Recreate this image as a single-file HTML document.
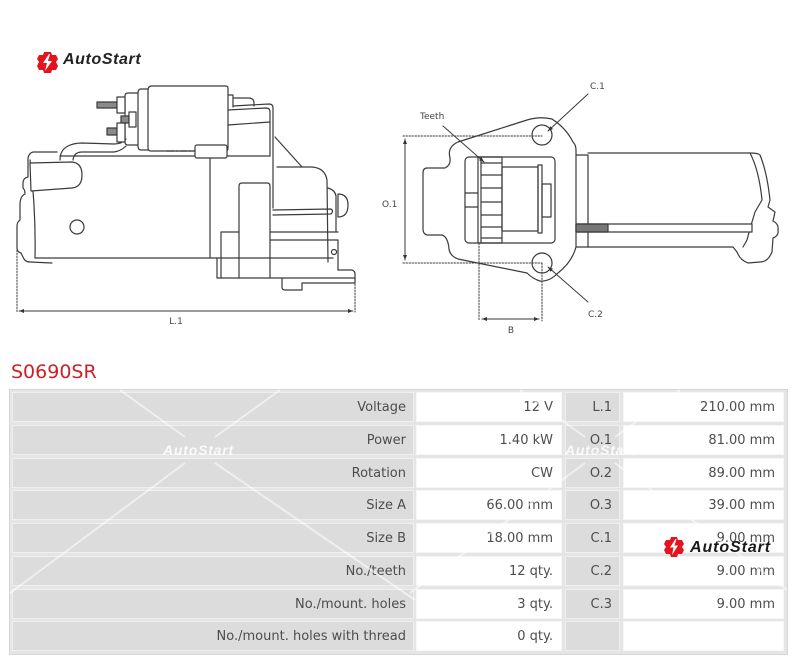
<!DOCTYPE html>
<html><head><meta charset="utf-8">
<style>
html,body{margin:0;padding:0;background:#fff;}
body{width:800px;height:660px;position:relative;overflow:hidden;font-family:"DejaVu Sans","Liberation Sans",sans-serif;}
.logo{position:absolute;left:63px;top:51px;font-family:"Liberation Sans",sans-serif;font-style:italic;font-weight:bold;font-size:16px;letter-spacing:0.6px;color:#222;}
.title{position:absolute;left:11px;top:360px;font-size:19px;color:#cc1f28;line-height:24px;}
.tbl{position:absolute;left:9px;top:389px;width:777px;height:264px;background:#e5e5e5;border:1px solid #d6d6d6;}
.c{position:absolute;height:30px;line-height:30px;font-size:13px;color:#4d4d4d;text-align:right;box-sizing:border-box;padding-right:7px;white-space:nowrap;}
.g{background:#dcdcdc;border:1px solid #efefef;}
.w{background:#fff;border:1px solid #f6f6f6;padding-right:8px;}
.c1{left:12px;width:402px}
.c2{left:416px;width:146px}
.c3{left:565px;width:55px}
.c4{left:623px;width:161px}
</style></head>
<body>

<svg width="800" height="345" style="position:absolute;left:0;top:0" viewBox="0 0 800 345">
<defs>
<marker id="ah" viewBox="0 0 10 10" refX="10" refY="5" markerWidth="5" markerHeight="5" orient="auto-start-reverse"><path d="M0,1 L10,5 L0,9 z" fill="#333"/></marker>
</defs>
<g transform="translate(37,52)">
<path d="M7 0 L14 0 L15 3 L19 3 L21 7 L19 10 L21 14 L19 18 L15 18 L14 21 L7 21 L6 18 L2 18 L0 14 L2 10 L0 7 L2 3 L6 3 Z" fill="#e3141d"/>
<path d="M12 2 L6 11 L10 11 L8 19 L15 9 L11 9 L13 2 Z" fill="#fff"/>
</g>

<g fill="none" stroke="#3a3a3a" stroke-width="1.2" stroke-linejoin="round" stroke-linecap="round">
<path d="M60 156 L270 156"/>
<path d="M35 258 L333 258"/>
<path d="M57 152 L33 152 Q29 153 28 158 L28 177 Q23 178 23 183 L23 188 Q25 190 25 194 Q20 196 20 205 L20 220 Q17 222 17 226 L17 248 Q17 252 21 253 L24 259 Q26 262 30 262 L52 263"/>
<path d="M30 160 Q36 210 35 258"/>
<path d="M30 163 L72 162 Q82 163 82 175 Q82 187 72 188 L31 191 Z" fill="#fff"/>
<path d="M60 160 Q60 150 68 146 Q74 143 82 143 L114 144 Q122 144 126 139"/>
<path d="M73 160 Q74 152 82 152 L114 152 Q121 151 126 146"/>
<circle cx="77" cy="227" r="7"/>
<path d="M152 86 L226 86 Q228 86 228 89 L228 148 Q228 151 226 151 L151 151 Q148 151 148 148 L148 90 Q148 86 152 86Z" fill="#fff"/>
<path d="M148 89 L141 89 Q138 89 138 93 L138 146 Q138 150 141 150 L148 150"/>
<path d="M138 93 L128 93 Q125 93 125 96 L125 142 Q125 145 128 145 L138 145"/>
<rect x="97" y="102" width="20" height="6" fill="#8a8a8a"/>
<rect x="117" y="97" width="8" height="16" fill="#fff"/>
<rect x="121" y="116" width="8" height="7" fill="#8a8a8a"/>
<rect x="129" y="112" width="7" height="15" fill="#fff"/>
<rect x="107" y="128" width="10" height="7" fill="#8a8a8a"/>
<rect x="117" y="123" width="8" height="19" fill="#fff"/>
<path d="M228 95 L233 95 L233 107"/>
<path d="M233 98 L250 98 Q254 99 254 103 L254 106"/>
<path d="M233 106 L269 104 Q273 104 273 108 L273 208"/>
<path d="M228 110 L266 108 Q270 108 270 112 L270 156"/>
<path d="M228 125 L270 122"/>
<path d="M167 151 L195 151" stroke-dasharray="7 2 2 2"/>
<rect x="195" y="145" width="32" height="13" rx="2" fill="#fff"/>
<path d="M210 158 L210 258"/>
<path d="M275 137 L302 167"/>
<path d="M277 167 L312 167 Q325 168 327 180 L328 262"/>
<path d="M328 188 Q335 190 336 196 L336 232"/>
<path d="M338 194 Q348 194 348 205 Q348 217 338 217 Z" fill="#fff"/>
<path d="M273 210 L331 209 Q334 211 331 214 L273 215"/>
<path d="M270 232 L338 232"/>
<path d="M270 240 L338 240 L338 270"/>
<circle cx="334" cy="252" r="2.5"/>
<path d="M239 278 L239 186 Q239 183 242 183 L267 183 Q270 183 270 186 L270 278"/>
<path d="M221 278 L221 232 L239 232"/>
<path d="M217 258 L217 278 L355 278"/>
<path d="M338 270 L352 270 Q355 271 355 274 L355 283 L302 283 L302 290 L285 290 Q282 290 282 287 L282 278"/>
<path d="M17 250 L17 312 M355 284 L355 312" stroke-dasharray="1.5 1.5" stroke-width="1"/>
<path d="M19 311 L353 311" stroke-width="1" marker-start="url(#ah)" marker-end="url(#ah)"/>

<path d="M427 168 L445 168 Q451 165 450 158 Q447 147 458 142 L527 120 Q540 116 552 119 Q566 128 573 142 Q576 145 576 150 L576 247 Q572 262 558 273 Q549 282 540 281 Q533 279 527 273 L458 259 Q450 256 449 249 Q448 237 442 235 L427 235 Q423 234 423 229 L423 173 Q423 168 427 168 Z" fill="#fff"/>
<rect x="465" y="157" width="90" height="86" rx="4"/>
<path d="M465 193 L478 193 M465 207 L478 207"/>
<rect x="478" y="157" width="24" height="86"/>
<path d="M481 157 L481 243"/>
<path d="M481 163 L502 163 M481 175 L502 175 M481 188 L502 188 M481 202 L502 202 M481 215 L502 215 M481 227 L502 227 M481 238 L502 238"/>
<rect x="502" y="167" width="36" height="64"/>
<rect x="538" y="165" width="4" height="68"/>
<rect x="542" y="184" width="9" height="33"/>
<circle cx="542" cy="135" r="10"/>
<circle cx="542" cy="263" r="10"/>
<path d="M403 136 L542 136 M403 263 L542 263 M479 243 L479 321 M542 263 L542 321" stroke-dasharray="1.5 1.5" stroke-width="1"/>
<path d="M405 139 L405 260" stroke-width="1" marker-start="url(#ah)" marker-end="url(#ah)"/>
<path d="M482 319 L539 319" stroke-width="1" marker-start="url(#ah)" marker-end="url(#ah)"/>
<path d="M443 126 L484 162" stroke-width="1" marker-end="url(#ah)"/>
<path d="M588 94 L548 131" stroke-width="1" marker-end="url(#ah)"/>
<path d="M588 302 L548 267" stroke-width="1" marker-end="url(#ah)"/>
<path d="M576 155 L588 155 L588 247 L576 247"/>
<path d="M588 153 L750 153 Q758 153 760 155 Q767 172 770 200 L768 207 L775 212 L773 221 Q779 224 778 230 Q779 236 773 238 L772 252 Q768 262 760 262 L748 263 Q740 260 737 252 L733 247 L588 247"/>
<path d="M750 153 Q759 170 762 200 L755 212 L752 222 Q749 232 747 240 L743 247"/>
<rect x="576" y="224" width="176" height="8" fill="#fff"/>
<rect x="576" y="224" width="32" height="8" fill="#777"/>
</g>
<g font-family="DejaVu Sans, Liberation Sans, sans-serif" font-size="9" fill="#444">
<text x="176" y="324" text-anchor="middle">L.1</text>
<text x="420" y="119">Teeth</text>
<text x="590" y="89">C.1</text>
<text x="588" y="317">C.2</text>
<text x="382" y="207">O.1</text>
<text x="511" y="333" text-anchor="middle">B</text>
</g>
</svg>

<div class="logo">AutoStart</div>
<div class="title">S0690SR</div>

<div class="tbl"></div>

<div class="c g c1" style="top:392.3px">Voltage</div>
<div class="c w c2" style="top:392.3px">12 V</div>
<div class="c g c3" style="top:392.3px">L.1</div>
<div class="c w c4" style="top:392.3px">210.00 mm</div>

<div class="c g c1" style="top:425px">Power</div>
<div class="c w c2" style="top:425px">1.40 kW</div>
<div class="c g c3" style="top:425px">O.1</div>
<div class="c w c4" style="top:425px">81.00 mm</div>

<div class="c g c1" style="top:457.7px">Rotation</div>
<div class="c w c2" style="top:457.7px">CW</div>
<div class="c g c3" style="top:457.7px">O.2</div>
<div class="c w c4" style="top:457.7px">89.00 mm</div>

<div class="c g c1" style="top:490.4px">Size A</div>
<div class="c w c2" style="top:490.4px">66.00 mm</div>
<div class="c g c3" style="top:490.4px">O.3</div>
<div class="c w c4" style="top:490.4px">39.00 mm</div>

<div class="c g c1" style="top:523.1px">Size B</div>
<div class="c w c2" style="top:523.1px">18.00 mm</div>
<div class="c g c3" style="top:523.1px">C.1</div>
<div class="c w c4" style="top:523.1px">9.00 mm</div>

<div class="c g c1" style="top:555.8px">No./teeth</div>
<div class="c w c2" style="top:555.8px">12 qty.</div>
<div class="c g c3" style="top:555.8px">C.2</div>
<div class="c w c4" style="top:555.8px">9.00 mm</div>

<div class="c g c1" style="top:588.5px">No./mount. holes</div>
<div class="c w c2" style="top:588.5px">3 qty.</div>
<div class="c g c3" style="top:588.5px">C.3</div>
<div class="c w c4" style="top:588.5px">9.00 mm</div>

<div class="c g c1" style="top:621.2px">No./mount. holes with thread</div>
<div class="c w c2" style="top:621.2px">0 qty.</div>
<div class="c g c3" style="top:621.2px"></div>
<div class="c w c4" style="top:621.2px"></div>

<svg width="800" height="660" style="position:absolute;left:0;top:0" viewBox="0 0 800 660">
<g stroke="#ffffff" stroke-width="2" stroke-opacity="0.55" fill="none">
<path d="M120 390 L185 437 M280 390 L215 437 M185 463 L10 593 M215 463 L415 600"/>
<path d="M520 390 L585 437 M680 390 L615 437 M585 463 L410 593 M615 463 L787 590"/>
</g>
<g font-family="Liberation Sans, sans-serif" font-style="italic" font-weight="bold" font-size="14" fill="#ffffff" fill-opacity="0.85" letter-spacing="0.8">
<text x="163" y="455">AutoStart</text>
<text x="565" y="455">AutoStart</text>
</g>
<g transform="translate(664,537)">
<path d="M7 0 L13 0 L14 3 L18 3 L20 7 L18 10 L20 13 L18 17 L14 17 L13 20 L7 20 L6 17 L2 17 L0 13 L2 10 L0 7 L2 3 L6 3 Z" fill="#e3141d"/>
<path d="M11.5 2 L6 10.5 L9.5 10.5 L8 18 L14 8.5 L10.5 8.5 L12.5 2 Z" fill="#fff"/>
</g>
<text x="690" y="552" font-family="Liberation Sans, sans-serif" font-style="italic" font-weight="bold" font-size="16" fill="#1a1a1a" letter-spacing="0.9">AutoStart</text>
</svg>

</body></html>
